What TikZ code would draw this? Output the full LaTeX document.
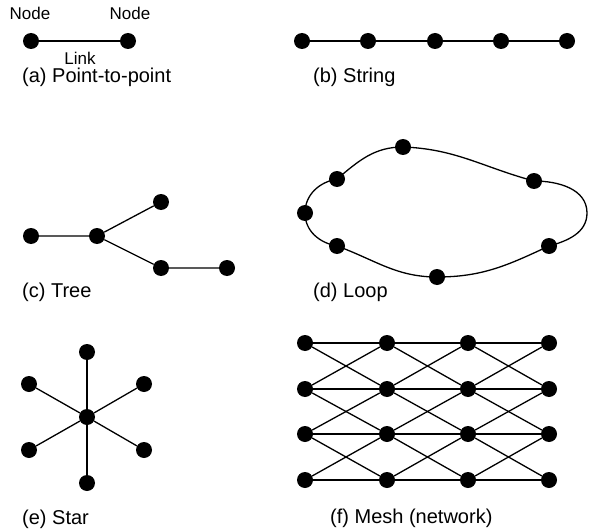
\documentclass[tikz,border=0pt]{standalone}
\usepackage{fontspec}
\setmainfont{Liberation Sans}
\begin{document}
\begin{tikzpicture}[x=1pt,y=-1pt,
	dot/.style={circle, fill=black, inner sep=0pt, minimum size=16pt},
	link/.style={line width=1.3pt},
	capt/.style={anchor=west, inner sep=0pt, font=\fontsize{20}{24}\selectfont},
	lab/.style={inner sep=0pt, font=\fontsize{17}{20}\selectfont}]
	\useasboundingbox (0,0) rectangle (589,532);
	% (a) point-to-point
	\node[dot] (pa) at (31,41) {};
	\node[dot] (pb) at (128,41) {};
	\draw[link] (pa) -- (pb);
	\node[lab] (link) at (80,58) {Link};
	\node[lab] (na) at (30,13) {Node};
	\node[lab] (nb) at (130,13) {Node};
	\node[capt] (ca) at (22,77) {(a) Point-to-point};
	
	% (b) string
	\foreach \i/\x in {1/302,2/368,3/435,4/501,5/567}
		\node[dot] (s\i) at (\x,41) {};
	\foreach \i/\j in {1/2,2/3,3/4,4/5}
		\draw[link] (s\i) -- (s\j);
	\node[capt] (cb) at (313,77) {(b) String};
	
	% (c) tree
	\node[dot] (t1) at (31,236) {};
	\node[dot] (t2) at (97,236) {};
	\node[dot] (t3) at (161,202) {};
	\node[dot] (t4) at (161,268) {};
	\node[dot] (t5) at (227,268) {};
	\draw[link] (t1) -- (t2) -- (t3);
	\draw[link] (t2) -- (t4) -- (t5);
	\node[capt] (cc) at (22,292) {(c) Tree};
	
	% (d) loop
	\coordinate (lr) at (587,213);
	\node[dot] (l1) at (403,147) {};
	\node[dot] (l2) at (534,181) {};
	\node[dot] (l3) at (549,246) {};
	\node[dot] (l4) at (437,277) {};
	\node[dot] (l5) at (337,246) {};
	\node[dot] (l6) at (305,213) {};
	\node[dot] (l7) at (337,179) {};
	\draw[link] (l1.center) to[out=-2,in=165] (l2.center) to[out=0,in=90] (lr)
		to[out=-90,in=15] (l3.center) to[out=-155,in=0] (l4.center)
		to[out=180,in=-20] (l5.center) to[out=170,in=-90] (l6.center)
		to[out=90,in=190] (l7.center) to[out=40,in=180] (l1.center);
	\node[capt] (cd) at (313,292) {(d) Loop};
	
	% (e) star
	\node[dot] (hub) at (87,417) {};
	\foreach \i/\x/\y in {1/87/352,2/144/384,3/144/450,4/87/483,5/29/450,6/29/384}{
		\node[dot] (r\i) at (\x,\y) {};
		\draw[link] (hub) -- (r\i);
	}
	\node[capt] (ce) at (22,519) {(e) Star};
	
	% (f) mesh
	\foreach \c/\x in {1/305,2/387,3/468,4/549}
		\foreach \r/\y in {1/343,2/389,3/434,4/480}
			\node[dot] (m\c\r) at (\x,\y) {};
	\foreach \c/\d in {1/2,2/3,3/4}{
		\foreach \r in {1,2,3,4}
			\draw[link, line width=1.8pt] (m\c\r) -- (m\d\r);
		\foreach \r/\s in {1/2,2/3,3/4}{
			\draw[link] (m\c\r) -- (m\d\s);
			\draw[link] (m\c\s) -- (m\d\r);
		}
	}
	\node[capt] (cf) at (330,518) {(f) Mesh (network)};
\end{tikzpicture}
\end{document}
